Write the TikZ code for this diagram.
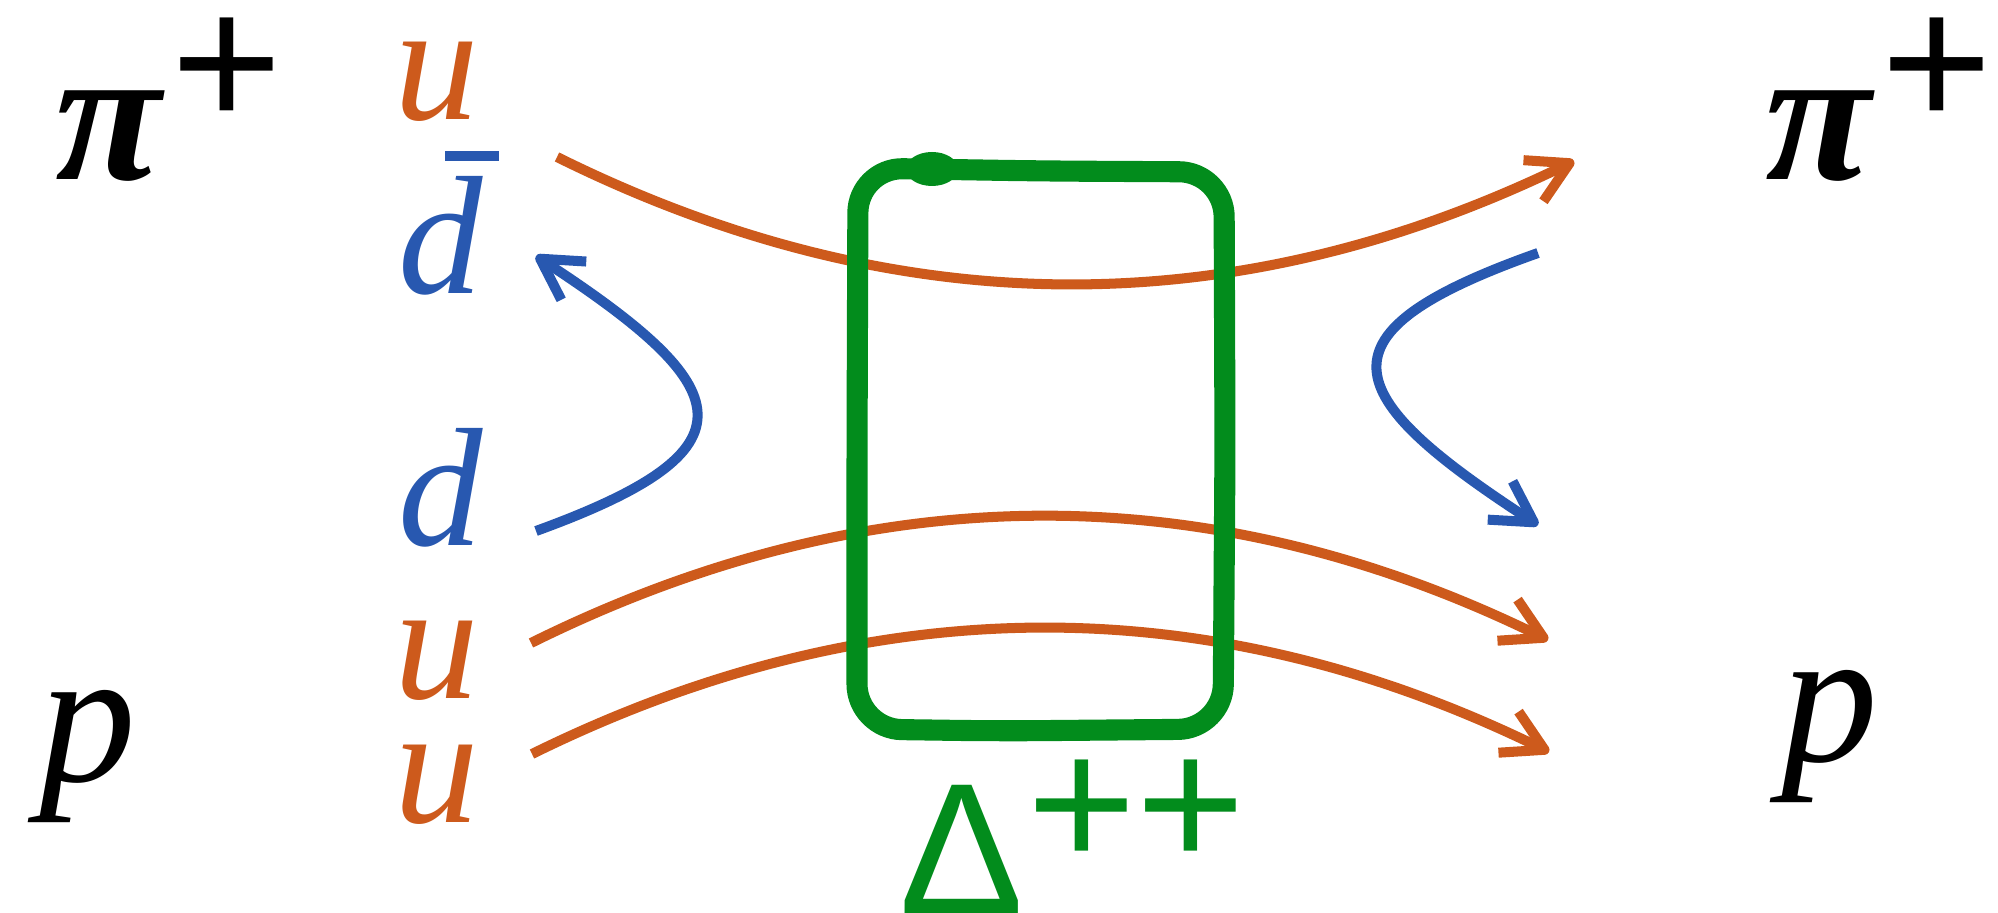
\documentclass[tikz,border=0pt]{standalone}
\usepackage{fontspec}
\setmainfont{Liberation Serif}
\newfontfamily\arialfont{Liberation Sans}
\usetikzlibrary{arrows.meta}
\definecolor{quarkorange}{RGB}{205,90,28}
\definecolor{quarkblue}{RGB}{40,88,176}
\definecolor{deltagreen}{RGB}{2,140,28}

\begin{document}
\begin{tikzpicture}[x=0.01cm,y=-0.01cm,
  quark/.style={inner sep=0pt,anchor=base,font=\fontsize{48}{48}\selectfont\itshape},
  hadron/.style={inner sep=0pt,anchor=base,font=\fontsize{55}{55}\selectfont\itshape},
  flow/.style={line width=2.85pt,-{Straight Barb[length=11.4pt,width=13pt,line join=round,line cap=butt]}}]
\useasboundingbox (0,0) rectangle (1998,913);
\node[hadron,anchor=base west] (piL) at (55,180) {\bfseries π\hspace{3pt}\raisebox{15pt}{\arialfont\mdseries\upshape\fontsize{54}{54}\selectfont +}};
\node[hadron,anchor=base west] (piR) at (1765,180) {\bfseries π\hspace{3pt}\raisebox{15pt}{\arialfont\mdseries\upshape\fontsize{54}{54}\selectfont +}};
\node[hadron] (pL) at (88,781) {p};
\node[hadron] (pR) at (1830,761) {p};
\node[quark,text=quarkorange] (uT) at (437,120) {u};
\node[quark,text=quarkblue] (dbar) at (441,294) {\makebox[0pt][l]{\hspace{13.2pt}\rule[37.8pt]{15.4pt}{2.85pt}}d};
\node[quark,text=quarkblue] (dL) at (441,545) {d};
\node[quark,text=quarkorange] (uM) at (437,698) {u};
\node[quark,text=quarkorange] (uB) at (437,822) {u};
\node[inner sep=0pt,anchor=base west,text=deltagreen,font=\arialfont\fontsize{53}{53}\selectfont] (dlt) at (899,913) {Δ\hspace{1pt}\raisebox{12.8pt}{++}};
\coordinate (uTin) at (557,157);
\coordinate (uTout) at (1574,161);
\coordinate (uMin) at (531,643);
\coordinate (uMout) at (1548,640);
\coordinate (uBin) at (532,754);
\coordinate (uBout) at (1549,752);
\coordinate (dLin) at (536,531);
\coordinate (dbarout) at (536,256);
\coordinate (dRin) at (1538,253);
\coordinate (dRout) at (1538,525);
\draw[flow,quarkorange] (uTin) .. controls (896,325) and (1235,326) .. (uTout);
\draw[flow,quarkorange] (uMin) .. controls (870,475) and (1209,474) .. (uMout);
\draw[flow,quarkorange] (uBin) .. controls (871,587) and (1210,586) .. (uBout);
\draw[flow,quarkblue] (dLin) .. controls (762,449) and (738,388) .. (dbarout);
\draw[flow,quarkblue] (dRin) .. controls (1312,333) and (1336,394) .. (dRout);
\draw[deltagreen,line width=6pt,rounded corners=0.45cm] (857,450) -- (858,168) -- (1040,171)
  -- (1224,172) -- (1225,450) -- (1223,729) -- (1000,731) -- (857,729) -- cycle;
\fill[deltagreen] (932,169) ellipse (26 and 17);
\end{tikzpicture}
\end{document}
